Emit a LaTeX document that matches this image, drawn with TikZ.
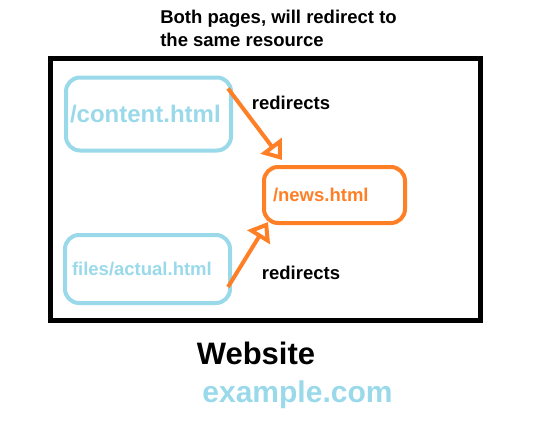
\documentclass[tikz,border=0pt]{standalone}
\usepackage{fontspec}
\setmainfont{Liberation Sans}
\usetikzlibrary{arrows.meta,positioning}
\definecolor{lightblue}{RGB}{153,217,234}
\definecolor{paintorange}{RGB}{255,127,39}

\begin{document}
\begin{tikzpicture}[x=1pt,y=-1pt,>={Triangle[open,length=18pt,width=26pt]},font=\fontsize{18.5}{23}\selectfont\bfseries]
		\tikzstyle{page}=[rectangle, rounded corners=14pt, draw=lightblue, text=lightblue, line width=4pt, align=left, inner ysep=0pt]
		\tikzstyle{redirect}=[->, draw=paintorange, line width=4pt]
		\useasboundingbox (0,0) rectangle (535,428);
		
		\node[draw, line width=5pt, minimum width=430pt, minimum height=261pt] (site) at (265,189.5) {};
		\node[page, minimum width=165pt, minimum height=73pt, text width=157pt, inner xsep=4pt, font=\fontsize{24}{28}\selectfont\bfseries] (content) at (148.5,114) {/content.html};
		\node[page, minimum width=141pt, minimum height=56pt, text width=123pt, inner xsep=9pt, draw=paintorange, text=paintorange] (news) at (334.5,195) {/news.html};
		\node[page, minimum width=165pt, minimum height=68pt, text width=151pt, inner xsep=7pt] (actual) at (147.5,269) {files/actual.html};
		
		\node[align=left] (note) at (278.5,28.5) {Both pages, will redirect to\\the same resource};
		\node (top) at (291,103) {redirects};
		\node (bottom) at (301,273) {redirects};
		\node[font=\fontsize{31}{35}\selectfont\bfseries] (website) at (256,353) {Website};
		\node[font=\fontsize{30}{34}\selectfont\bfseries, text=lightblue] (domain) at (297.5,395) {example.com};
		
		\draw[redirect] ([xshift=-5pt,yshift=-13pt]content.north east) -- ([xshift=20pt,yshift=5pt]news.north west);
		\draw[redirect] ([xshift=-4pt,yshift=18pt]actual.south east) -- ([xshift=6pt,yshift=3pt]news.south west);
		\end{tikzpicture}
\end{document}
